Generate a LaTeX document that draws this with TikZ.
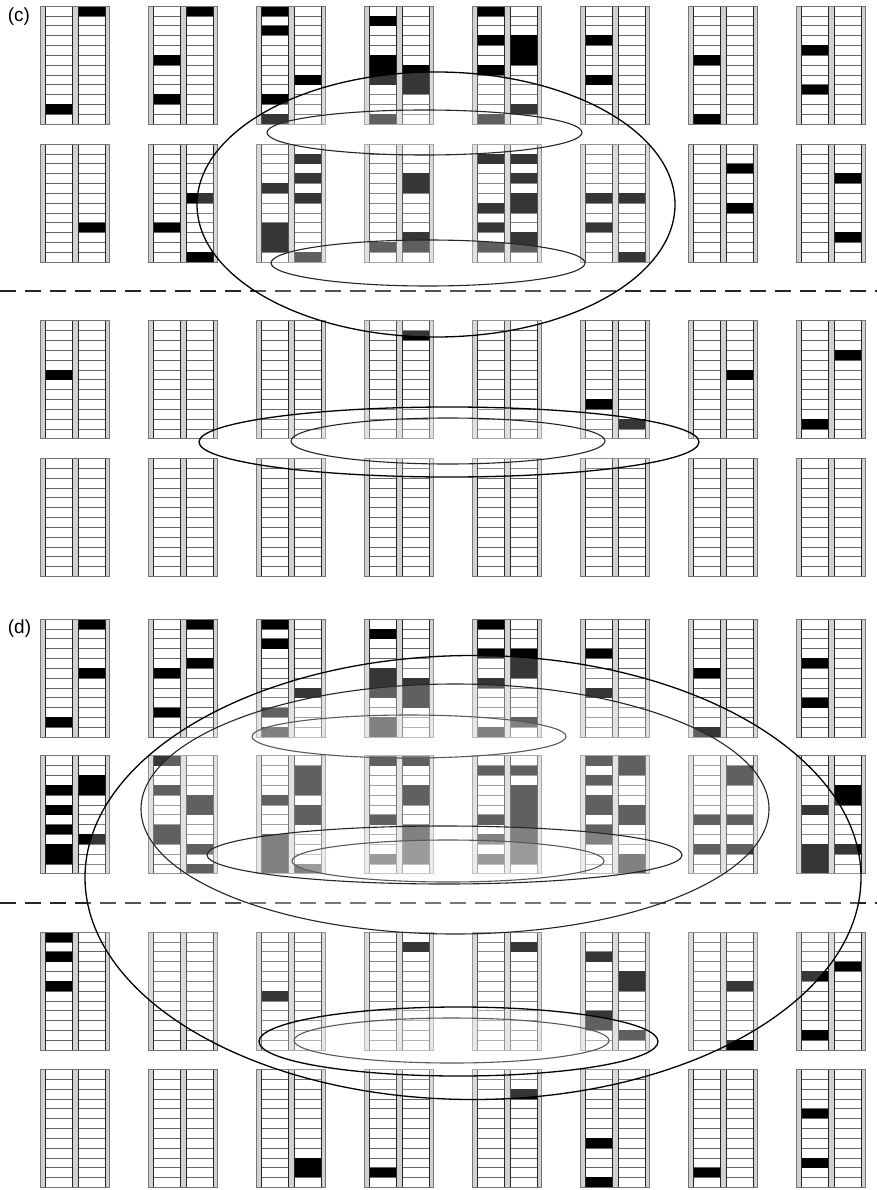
\documentclass[tikz,border=0pt]{standalone}
\usepackage{fontspec}
\setmainfont{Liberation Sans}
\tikzset{
  barcol/.style={fill=black!18},
  cellcol/.style={fill=black},
  rungline/.style={draw=black!60, line width=0.6pt},
  railline/.style={draw=black!85, line width=0.6pt},
  frameline/.style={draw=black!55, line width=0.6pt},
  veil/.style={fill=white, fill opacity=0.21},
  bigring/.style={draw=black, line width=1.3pt},
  midring/.style={draw=black!85, line width=1.1pt},
  smallring/.style={draw=black!65, line width=1.1pt},
  sepline/.style={draw=black!85, line width=1.4pt, dash pattern=on 16pt off 9pt},
  panellabel/.style={font=\fontsize{19}{21}\selectfont, inner sep=0pt}
}
\newcommand{\ladder}[4]{%
\begin{scope}[shift={(#1,#2)}]
  \fill[barcol] (0,0) rectangle (4.5,118);
  \fill[barcol] (31.5,0) rectangle (37.5,118);
  \fill[barcol] (64.5,0) rectangle (69,118);
  \foreach \k in {1,...,11}{\draw[rungline] (4.5,{\k*9.8333}) -- (31.5,{\k*9.8333}) (37.5,{\k*9.8333}) -- (64.5,{\k*9.8333});}
  \foreach \cr in {#3}{\ifnum\cr>0 \fill[cellcol] (4.5,{(\cr-1)*9.8333}) rectangle (31.5,{\cr*9.8333});\fi}
  \foreach \cr in {#4}{\ifnum\cr>0 \fill[cellcol] (37.5,{(\cr-1)*9.8333}) rectangle (64.5,{\cr*9.8333});\fi}
  \draw[railline] (4.5,0) -- (4.5,118) (31.5,0) -- (31.5,118) (37.5,0) -- (37.5,118) (64.5,0) -- (64.5,118);
  \draw[frameline] (0,0) rectangle (69,118);
\end{scope}}
\begin{document}
\begin{tikzpicture}[x=1pt,y=-1pt]
\fill[white] (0,0) rectangle (877,1190);
\path[use as bounding box] (0,0) rectangle (877,1190);

% ---------- panel (c) ----------
% row 1
\ladder{40.5}{6}{11}{1}
\ladder{148.5}{6}{6,10}{1}
\ladder{256.5}{6}{1,3,10,12}{8}
\ladder{364.5}{6}{2,6,7,8,12}{7,8,9}
\ladder{472.5}{6}{1,4,7,12}{4,5,6,11}
\ladder{580.5}{6}{4,8}{0}
\ladder{688.5}{6}{6,12}{0}
\ladder{796.5}{6}{5,9}{0}
% row 2
\ladder{40.5}{144}{0}{9}
\ladder{148.5}{144}{9}{6,12}
\ladder{256.5}{144}{5,9,10,11}{2,4,6,12}
\ladder{364.5}{144}{11}{4,5,10,11}
\ladder{472.5}{144}{2,7,9,11}{2,4,6,7,10,11}
\ladder{580.5}{144}{6,9}{6,12}
\ladder{688.5}{144}{0}{3,7}
\ladder{796.5}{144}{0}{4,10}
% row 3
\ladder{40.5}{320.7}{6}{0}
\ladder{148.5}{320.7}{0}{0}
\ladder{256.5}{320.7}{0}{0}
\ladder{364.5}{320.7}{0}{2}
\ladder{472.5}{320.7}{0}{0}
\ladder{580.5}{320.7}{9}{11}
\ladder{688.5}{320.7}{0}{6}
\ladder{796.5}{320.7}{11}{4}
% row 4
\ladder{40.5}{458.3}{0}{0}
\ladder{148.5}{458.3}{0}{0}
\ladder{256.5}{458.3}{0}{0}
\ladder{364.5}{458.3}{0}{0}
\ladder{472.5}{458.3}{0}{0}
\ladder{580.5}{458.3}{0}{0}
\ladder{688.5}{458.3}{0}{0}
\ladder{796.5}{458.3}{0}{0}

% ---------- panel (d) ----------
% row 1
\ladder{40.5}{619}{11}{1,6}
\ladder{148.5}{619}{6,10}{1,5}
\ladder{256.5}{619}{1,3,10,12}{8}
\ladder{364.5}{619}{2,6,7,8,11,12}{7,8,9}
\ladder{472.5}{619}{1,4,7,12}{4,5,6,11}
\ladder{580.5}{619}{4,8}{0}
\ladder{688.5}{619}{6,12}{0}
\ladder{796.5}{619}{5,9}{0}
% row 2
\ladder{40.5}{755.7}{4,6,8,10,11}{3,4,9}
\ladder{148.5}{755.7}{1,4,8,9}{5,6,10,12}
\ladder{256.5}{755.7}{5,9,10,11,12}{2,3,4,6,7,12}
\ladder{364.5}{755.7}{1,7,11}{1,4,5,8,9,10,11}
\ladder{472.5}{755.7}{2,7,9,11}{2,4,5,6,7,8,9,10,11}
\ladder{580.5}{755.7}{1,3,5,6,8,9}{1,2,6,7,11,12}
\ladder{688.5}{755.7}{7,10}{2,3,7,10}
\ladder{796.5}{755.7}{6,10,11,12}{4,5,10}
% row 3
\ladder{40.5}{932}{1,3,6}{0}
\ladder{148.5}{932}{0}{0}
\ladder{256.5}{932}{7}{0}
\ladder{364.5}{932}{0}{2}
\ladder{472.5}{932}{0}{2}
\ladder{580.5}{932}{3,9,10}{5,6,11}
\ladder{688.5}{932}{0}{6,12}
\ladder{796.5}{932}{5,11}{4}
% row 4
\ladder{40.5}{1069.3}{0}{0}
\ladder{148.5}{1069.3}{0}{0}
\ladder{256.5}{1069.3}{0}{10,11}
\ladder{364.5}{1069.3}{11}{0}
\ladder{472.5}{1069.3}{0}{3}
\ladder{580.5}{1069.3}{8,12}{0}
\ladder{688.5}{1069.3}{11}{0}
\ladder{796.5}{1069.3}{5,10}{0}

% separators
\coordinate (sepcL) at (0,291);
\coordinate (sepcR) at (877,291);
\coordinate (sepdL) at (0,903);
\coordinate (sepdR) at (877,903);
\draw[sepline] (sepcL) -- (sepcR);
\draw[sepline] (sepdL) -- (sepdR);

% veils (translucent ellipse interiors)
\fill[veil] (436,204.5) ellipse [x radius=239pt, y radius=132.5pt];
\fill[veil] (424.5,132.5) ellipse [x radius=157.5pt, y radius=22.5pt];
\fill[veil] (428,263) ellipse [x radius=157pt, y radius=23pt];
\fill[veil] (449,442) ellipse [x radius=250pt, y radius=35pt];
\fill[veil] (448,441) ellipse [x radius=157pt, y radius=23pt];
\fill[veil] (473,877.5) ellipse [x radius=388pt, y radius=222pt];
\fill[veil] (455,809) ellipse [x radius=314pt, y radius=125pt];
\fill[veil] (409,736.5) ellipse [x radius=157pt, y radius=21.5pt];
\fill[veil] (444.5,855) ellipse [x radius=237.5pt, y radius=29pt];
\fill[veil] (448,861) ellipse [x radius=156pt, y radius=21pt];
\fill[veil] (458.5,1041.5) ellipse [x radius=199.5pt, y radius=34.5pt];
\fill[veil] (451.5,1040.5) ellipse [x radius=157.5pt, y radius=22.5pt];

% ellipse outlines
\draw[bigring] (436,204.5) ellipse [x radius=239pt, y radius=132.5pt];
\draw[midring] (424.5,132.5) ellipse [x radius=157.5pt, y radius=22.5pt];
\draw[midring] (428,263) ellipse [x radius=157pt, y radius=23pt];
\draw[bigring] (449,442) ellipse [x radius=250pt, y radius=35pt];
\draw[midring] (448,441) ellipse [x radius=157pt, y radius=23pt];
\draw[bigring] (473,877.5) ellipse [x radius=388pt, y radius=222pt];
\draw[midring] (455,809) ellipse [x radius=314pt, y radius=125pt];
\draw[smallring] (409,736.5) ellipse [x radius=157pt, y radius=21.5pt];
\draw[midring] (444.5,855) ellipse [x radius=237.5pt, y radius=29pt];
\draw[smallring] (448,861) ellipse [x radius=156pt, y radius=21pt];
\draw[bigring] (458.5,1041.5) ellipse [x radius=199.5pt, y radius=34.5pt];
\draw[smallring] (451.5,1040.5) ellipse [x radius=157.5pt, y radius=22.5pt];

% labels
\node[panellabel] (labc) at (19,17) {(c)};
\node[panellabel] (labd) at (19.5,629) {(d)};
\end{tikzpicture}
\end{document}
